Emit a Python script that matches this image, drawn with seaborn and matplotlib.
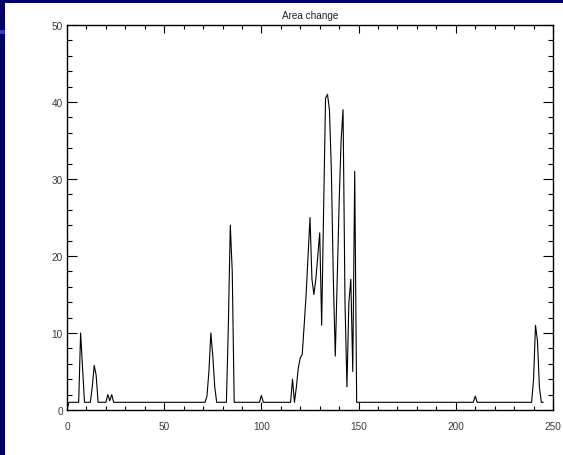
import matplotlib
matplotlib.use("Agg")
import matplotlib.pyplot as plt
import seaborn as sns
import pandas as pd
from matplotlib.patches import Rectangle
from matplotlib.ticker import MultipleLocator

# Vertices of the traced line (index, area change)
x_vals = [0, 1, 6, 7, 8, 9, 12, 13, 14, 15, 16, 20, 21, 22, 23, 24,
          71, 72, 73, 74, 75, 76, 77, 82, 83, 84, 85, 86,
          99, 100, 101,
          115, 116, 117, 118, 119, 120, 121, 122, 123, 124, 125, 126, 127, 128,
          129, 130, 131, 132, 133, 134, 135, 136, 137, 138, 139, 140, 141, 142,
          143, 144, 145, 146, 147, 148, 149,
          209, 210, 211, 239, 240, 241, 242, 243, 244, 245]
y_vals = [0, 1, 1, 10, 5.5, 1, 1, 3, 5.8, 4.5, 1, 1, 2, 1.2, 2, 1,
          1, 1.8, 5, 10, 7, 3, 1, 1, 11, 24, 18, 1,
          1, 1.9, 1,
          1, 4, 1, 3, 5.5, 6.8, 7.2, 11, 15, 20, 25, 17, 15, 17,
          20, 23, 11, 26, 40.5, 41, 39, 31, 17, 7, 17, 27, 35, 39,
          14, 3, 14, 17, 5, 31, 1,
          1, 1.8, 1, 1, 4, 11, 9, 3, 1, 1]

title_text = "Area change"
x_ticks = [0, 50, 100, 150, 200, 250]
y_ticks = [0, 10, 20, 30, 40, 50]

df = pd.DataFrame({"x": x_vals, "y": y_vals})

sns.set_style("ticks")
plt.rcParams["font.family"] = ["Liberation Sans", "DejaVu Sans"]

W, H = 563, 456
fig = plt.figure(figsize=(W / 100, H / 100), dpi=100)
fig.patch.set_facecolor("#000068")
fig.patches.append(Rectangle((5 / W, 0), 1 - 5 / W, (H - 4) / H,
                             transform=fig.transFigure, facecolor="white",
                             edgecolor="none", zorder=-10))
fig.patches.append(Rectangle((0, (H - 35) / H), 5 / W, 4 / H,
                             transform=fig.transFigure, facecolor="#2a3fc0",
                             edgecolor="none", zorder=-10))

ax = fig.add_axes([67 / W, 45 / H, (553 - 67) / W, (411 - 26) / H])
ax.set_facecolor("white")

sns.lineplot(data=df, x="x", y="y", ax=ax, color="black", linewidth=0.8,
             estimator=None, sort=False)

ax.set_xlim(0, 250)
ax.set_ylim(0, 50)
ax.set_xticks(x_ticks)
ax.set_yticks(y_ticks)
ax.xaxis.set_minor_locator(MultipleLocator(10))
ax.yaxis.set_minor_locator(MultipleLocator(2))
ax.set_xlabel("")
ax.set_ylabel("")

ax.tick_params(axis="both", which="both", direction="in", top=True, right=True,
               colors="black", labelcolor="#3a3a3a", labelsize=7.2)
ax.tick_params(axis="x", which="major", length=6, width=0.8, pad=8)
ax.tick_params(axis="x", which="minor", length=3, width=0.8)
ax.tick_params(axis="y", which="major", length=7, width=0.8, pad=3)
ax.tick_params(axis="y", which="minor", length=3.5, width=0.8)

for sp in ax.spines.values():
    sp.set_visible(True)
    sp.set_color("black")
    sp.set_linewidth(1.0)

ax.set_title(title_text, fontsize=7.2, color="#222222", pad=5)

fig.savefig("out.png", dpi=100, facecolor=fig.get_facecolor())
